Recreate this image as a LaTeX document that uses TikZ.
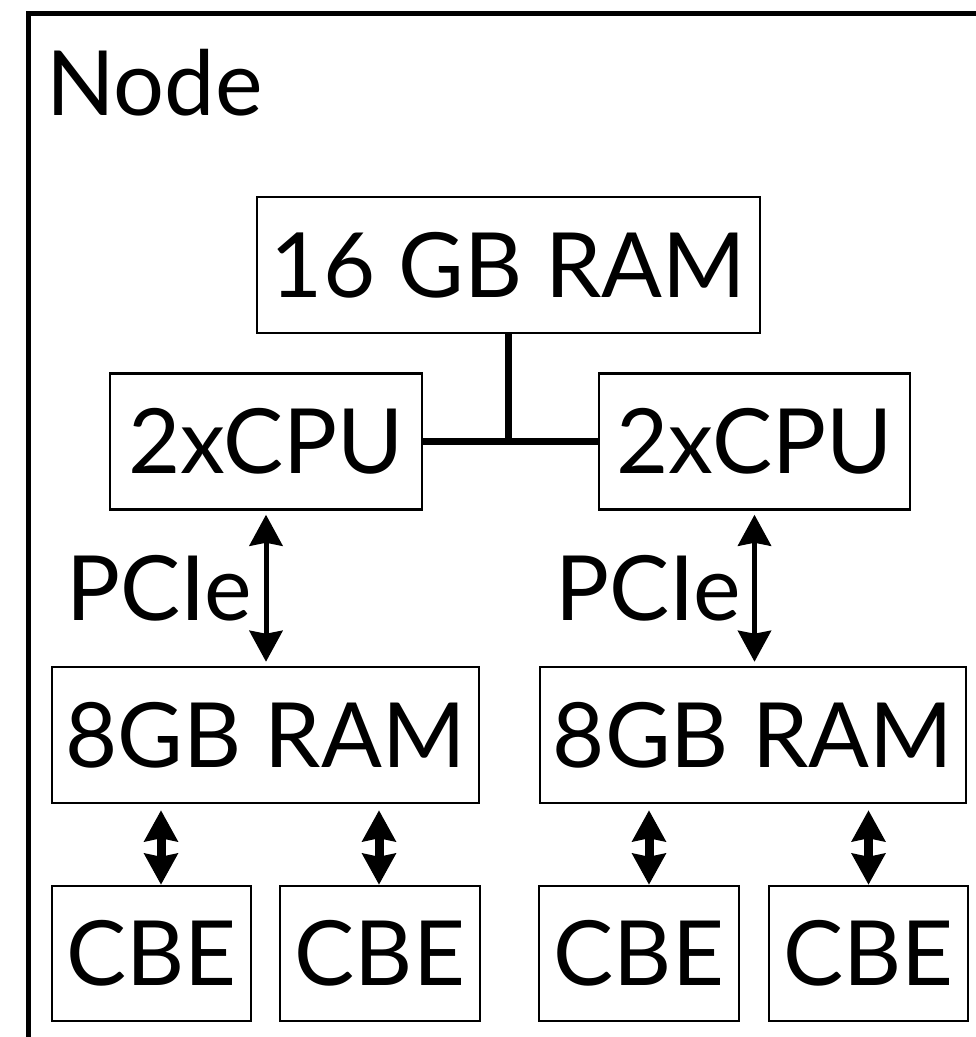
\documentclass[tikz,border=0pt]{standalone}
\usepackage{fontspec}
\setmainfont{Lato}
\usetikzlibrary{arrows.meta,positioning,calc}
\tikzset{
  hwbox/.style={draw, rectangle, line width=2.5pt, inner sep=0pt, minimum height=136pt, align=center},
  bus/.style={line width=7.5pt},
  link/.style={line width=5pt, {Stealth[length=31pt,width=33pt,inset=3pt]}-{Stealth[length=31pt,width=33pt,inset=3pt]}},
  shortlink/.style={link, line width=9pt}
}

\begin{document}
\begin{tikzpicture}[x=1pt, y=-1pt, font=\fontsize{90}{100}\selectfont]
  \useasboundingbox (0,0) rectangle (976,1037);
  \draw [line width=5pt] (28,13) rectangle (1010,1070);
  \node [anchor=base west, inner sep=0pt] (title) at (46,115) {Node};

  % memory and cpus
  \node [hwbox, minimum width=503pt] (ram16) at (508.5,265) {16 GB RAM};
  \node [hwbox, minimum width=312pt] (cpuL) at (266,441.5) {2xCPU};
  \node [hwbox, minimum width=311pt] (cpuR) at (754.5,441.5) {2xCPU};
  \node [hwbox, minimum width=427pt] (ramL) at (265.5,735) {8GB RAM};
  \node [hwbox, minimum width=426pt] (ramR) at (753,735) {8GB RAM};

  % cell processors
  \node [hwbox, minimum width=199pt, minimum height=135pt] (cbe1) at (151.5,953.5) {CBE};
  \node [hwbox, minimum width=200pt, minimum height=135pt] (cbe2) at (380,953.5) {CBE};
  \node [hwbox, minimum width=200pt, minimum height=135pt] (cbe3) at (639,953.5) {CBE};
  \node [hwbox, minimum width=199pt, minimum height=135pt] (cbe4) at (868.5,953.5) {CBE};

  \coordinate (join) at (ram16.south |- cpuL.east);
  \draw [bus] (cpuL.east) -- (cpuR.west);
  \draw [bus] (ram16.south) -- (join);

  \draw [link, shorten <=4pt, shorten >=4pt] (cpuL.south) -- node [left=8pt] {PCIe} (cpuL.south |- ramL.north);
  \draw [link, shorten <=4pt, shorten >=4pt] (cpuR.south) -- node [left=8pt] {PCIe} (cpuR.south |- ramR.north);

  \draw [shortlink, shorten <=6pt] ([xshift=9.5pt]cbe1.north |- ramL.south) -- ([xshift=9.5pt]cbe1.north);
  \draw [shortlink, shorten <=6pt] ([xshift=-1pt]cbe2.north |- ramL.south) -- ([xshift=-1pt]cbe2.north);
  \draw [shortlink, shorten <=6pt] ([xshift=10pt]cbe3.north |- ramR.south) -- ([xshift=10pt]cbe3.north);
  \draw [shortlink, shorten <=6pt] (cbe4.north |- ramR.south) -- (cbe4.north);
\end{tikzpicture}
\end{document}
